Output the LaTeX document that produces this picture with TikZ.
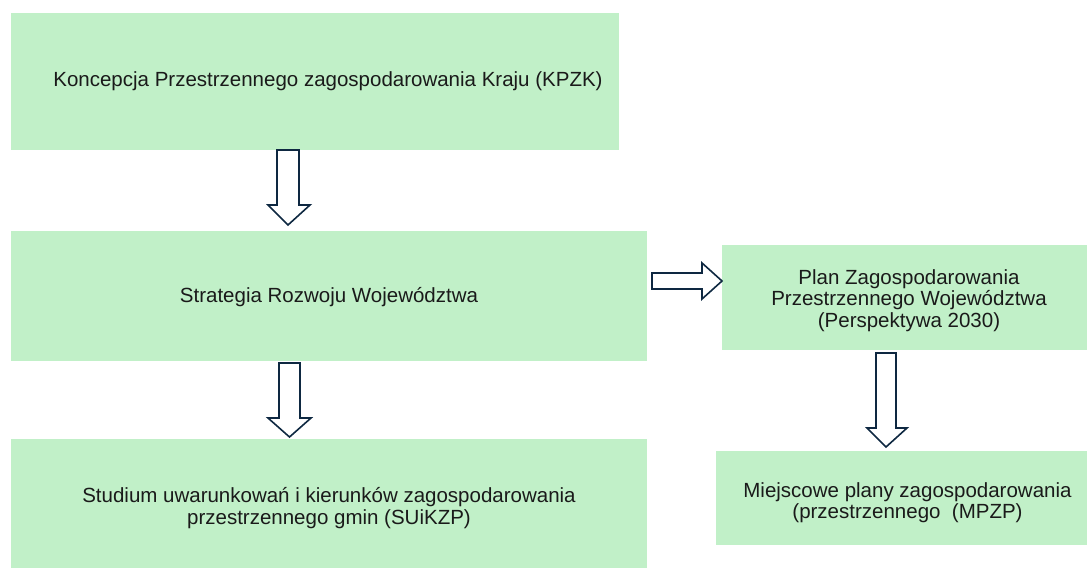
\documentclass[tikz,border=0pt]{standalone}
\usepackage{fontspec}
\setmainfont{Liberation Sans}
\usetikzlibrary{calc}
\definecolor{boxfill}{HTML}{C1F0C8}
\definecolor{arrowline}{HTML}{0E2841}
\definecolor{txt}{HTML}{1A1A1A}
\begin{document}
\begin{tikzpicture}[x=1pt,y=-1pt,
  box/.style={fill=boxfill,draw=none,inner sep=0pt},
  label/.style={align=center,text=txt,font=\fontsize{20.5}{21.5}\selectfont,inner sep=0pt},
  blockarrow/.style={draw=arrowline,fill=white,line width=1.6pt,line join=miter}]
\useasboundingbox (0,0) rectangle (1087,568);
% boxes
\node[box,minimum width=608pt,minimum height=137pt] (kpzk) at (315,81.5) {};
\node[box,minimum width=636pt,minimum height=130pt] (srw) at (329,296) {};
\node[box,minimum width=636pt,minimum height=129pt] (suikzp) at (329,503.5) {};
\node[box,minimum width=365pt,minimum height=105pt] (pzpw) at (904.5,297.5) {};
\node[box,minimum width=371pt,minimum height=94pt] (mpzp) at (901.5,498) {};
% texts
\node[label] (kpzkt) at ($(kpzk.center)+(13,-0.5)$)
  {Koncepcja Przestrzennego zagospodarowania Kraju (KPZK)};
\node[label] (srwt) at ($(srw.center)+(0,1)$)
  {Strategia Rozwoju Województwa};
\node[label] (suikzpt) at ($(suikzp.center)+(0,4.5)$)
  {Studium uwarunkowań i kierunków zagospodarowania\\przestrzennego gmin (SUiKZP)};
\node[label] (pzpwt) at ($(pzpw.center)+(4.5,3)$)
  {Plan Zagospodarowania\\Przestrzennego Województwa\\(Perspektywa 2030)};
\node[label] (mpzpt) at ($(mpzp.center)+(6,4.5)$)
  {Miejscowe plany zagospodarowania\\(przestrzennego\ \ (MPZP)};
% block arrows
\draw[blockarrow] (277,150) -- (299,150) -- (299,205) -- (310,205) -- (288,225)
  -- (268,205) -- (277,205) -- cycle;
\draw[blockarrow] (279,363) -- (300,363) -- (300,418) -- (311,418) -- (289.5,437)
  -- (268,418) -- (279,418) -- cycle;
\draw[blockarrow] (652,273) -- (702,273) -- (702,263) -- (722,281) -- (702,299)
  -- (702,289) -- (652,289) -- cycle;
\draw[blockarrow] (876,353) -- (896,353) -- (896,428) -- (907,428) -- (886,447)
  -- (867,428) -- (876,428) -- cycle;
\end{tikzpicture}
\end{document}
